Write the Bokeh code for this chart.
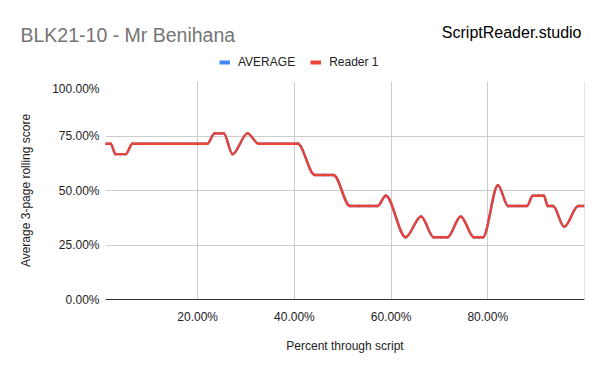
import numpy as np
from bokeh.plotting import figure
from bokeh.layouts import column
from bokeh.models import (FixedTicker, NumeralTickFormatter, Legend, LegendItem,
                          Label, Span, ColumnDataSource, Range1d)
from bokeh.embed import file_html
from bokeh.resources import INLINE

# ---- data (fractions) ----
position = [0.0093, 0.020, 0.030, 0.040, 0.051, 0.065, 0.085, 0.110, 0.140, 0.170,
            0.200, 0.220, 0.235, 0.246, 0.254, 0.272, 0.303, 0.326, 0.350, 0.380,
            0.407, 0.442, 0.462, 0.481, 0.515, 0.535, 0.555, 0.572, 0.589, 0.630,
            0.662, 0.688, 0.703, 0.717, 0.744, 0.771, 0.782, 0.790, 0.821, 0.842,
            0.862, 0.881, 0.893, 0.905, 0.916, 0.924, 0.935, 0.958, 0.987, 1.000]
reader1 = [0.7143, 0.7143, 0.6667, 0.6667, 0.6667, 0.7143, 0.7143, 0.7143, 0.7143, 0.7143,
           0.7143, 0.7143, 0.7619, 0.7619, 0.7619, 0.6667, 0.7619, 0.7143, 0.7143, 0.7143,
           0.7143, 0.5714, 0.5714, 0.5714, 0.4286, 0.4286, 0.4286, 0.4286, 0.4762, 0.2857,
           0.3810, 0.2857, 0.2857, 0.2857, 0.3810, 0.2857, 0.2857, 0.2857, 0.5238, 0.4286,
           0.4286, 0.4286, 0.4762, 0.4762, 0.4762, 0.4286, 0.4286, 0.3333, 0.4286, 0.4286]
average = list(reader1)

series_names = ["AVERAGE", "Reader 1"]
x_ticks = [0.2, 0.4, 0.6, 0.8]
y_ticks = [0.0, 0.25, 0.5, 0.75, 1.0]

FONT = "Liberation Sans"
BLUE = "#4285f4"
RED = "#ea4335"
W, H, HEAD = 600, 371, 81


def smooth_segments(xv, yv):
    """Monotone cubic (Fritsch-Carlson) bezier segments through the data points."""
    xv = np.asarray(xv, float)
    yv = np.asarray(yv, float)
    dx = np.diff(xv)
    sec = np.diff(yv) / dx
    n = len(xv)
    m = np.zeros(n)
    m[0], m[-1] = sec[0], sec[-1]
    for i in range(1, n - 1):
        a, b = sec[i - 1], sec[i]
        if a * b > 0:
            w1 = 2 * dx[i] + dx[i - 1]
            w2 = dx[i] + 2 * dx[i - 1]
            m[i] = (w1 + w2) / (w1 / a + w2 / b)
    return dict(x0=xv[:-1], y0=yv[:-1], x1=xv[1:], y1=yv[1:],
                cx0=xv[:-1] + dx / 3, cy0=yv[:-1] + m[:-1] * dx / 3,
                cx1=xv[1:] - dx / 3, cy1=yv[1:] - m[1:] * dx / 3)


# ---------- header: title, brand, legend ----------
head = figure(width=W, height=HEAD, x_range=Range1d(0, W), y_range=Range1d(0, HEAD),
              title=None, output_backend="svg", toolbar_location=None,
              min_border=0, x_axis_type=None, y_axis_type=None)
head.frame_align = False
head.outline_line_color = None
head.xgrid.visible = False
head.ygrid.visible = False
head.add_layout(Label(x=20, y=47, text="BLK21-10 - Mr Benihana", text_font=FONT,
                      text_font_size="19.5px", text_color="#757575", text_baseline="alphabetic"))
head.add_layout(Label(x=581, y=49, text="ScriptReader.studio", text_font=FONT,
                      text_font_size="16px", text_color="#000000", text_align="right",
                      text_baseline="alphabetic"))
# hidden copies of the series, used only for the legend swatches
sw_a = head.line(position, average, line_color=BLUE, line_width=4, visible=False)
sw_r = head.line(position, reader1, line_color=RED, line_width=4, visible=False)
legend = Legend(items=[LegendItem(label=series_names[0], renderers=[sw_a]),
                       LegendItem(label=series_names[1], renderers=[sw_r])],
                orientation="horizontal", location=(219, 12),
                border_line_color=None, background_fill_alpha=0, inactive_fill_alpha=0,
                label_text_font=FONT, label_text_font_size="12px", label_text_color="#222222",
                glyph_width=11, glyph_height=12, label_standoff=8, spacing=15,
                padding=5, margin=0)
head.add_layout(legend)

# ---------- main chart ----------
p = figure(width=W, height=H - HEAD, x_range=(0.0093, 1.0), y_range=(0, 1.0),
           title=None, output_backend="svg", toolbar_location=None,
           min_border_left=105, min_border_right=16, min_border_top=0, min_border_bottom=72)
p.frame_align = False
p.outline_line_color = None

p.xgrid.ticker = FixedTicker(ticks=x_ticks)
p.ygrid.ticker = FixedTicker(ticks=y_ticks)
p.xgrid.grid_line_color = "#cccccc"
p.ygrid.grid_line_color = "#cccccc"
p.add_layout(Span(location=1.0, dimension="height", line_color="#cccccc", line_width=1))

avg_src = ColumnDataSource(smooth_segments(position, average))
r1_src = ColumnDataSource(smooth_segments(position, reader1))
p.bezier(x0="x0", y0="y0", x1="x1", y1="y1", cx0="cx0", cy0="cy0", cx1="cx1", cy1="cy1",
         source=avg_src, line_color=BLUE, line_width=2.4, line_cap="round")
p.bezier(x0="x0", y0="y0", x1="x1", y1="y1", cx0="cx0", cy0="cy0", cx1="cx1", cy1="cy1",
         source=r1_src, line_color=RED, line_width=2.4, line_cap="round")

p.xaxis.ticker = FixedTicker(ticks=x_ticks)
p.yaxis.ticker = FixedTicker(ticks=y_ticks)
p.xaxis.formatter = NumeralTickFormatter(format="0.00%")
p.yaxis.formatter = NumeralTickFormatter(format="0.00%")
for ax in (p.xaxis, p.yaxis):
    ax.major_tick_line_color = None
    ax.minor_tick_line_color = None
    ax.major_tick_out = 0
    ax.major_tick_in = 0
    ax.major_label_text_font = FONT
    ax.major_label_text_font_size = "12px"
    ax.major_label_text_color = "#222222"
    ax.axis_label_text_font = FONT
    ax.axis_label_text_font_size = "12px"
    ax.axis_label_text_font_style = "normal"
    ax.axis_label_text_color = "#222222"
p.yaxis.axis_line_color = None
p.xaxis.axis_line_color = "#333333"
p.yaxis.major_label_standoff = 6
p.xaxis.major_label_standoff = 10
p.yaxis.axis_label = "Average 3-page rolling score"
p.xaxis.axis_label = "Percent through script"
p.yaxis.axis_label_standoff = 16
p.xaxis.axis_label_standoff = 12

layout = column(head, p, spacing=0)
open("out.html", "w").write(file_html(layout, INLINE))
